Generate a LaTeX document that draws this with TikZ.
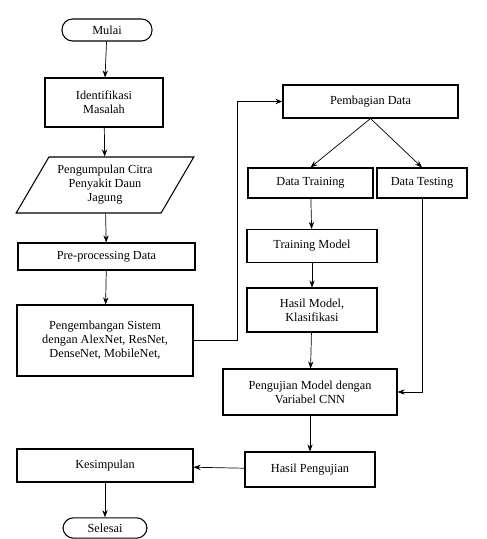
\documentclass[tikz,border=0pt]{standalone}
\usepackage{fontspec}
\setmainfont{Liberation Serif}
\usetikzlibrary{shapes.geometric,arrows.meta}
\begin{document}
\begin{tikzpicture}[font=\scriptsize,
    kotak/.style={draw,semithick,align=center,inner sep=1pt},
    ujung/.style={draw,semithick,rounded corners=6pt,align=center},
    panah/.style={-{Stealth[length=4pt]}}]
            \useasboundingbox (0,0) rectangle (9.74,-10.78);
            % alur kiri
            \node[ujung,minimum width=1.8cm,minimum height=0.44cm] (mulai) at (2.14,-0.60) {Mulai};
            \node[kotak,minimum width=2.36cm,minimum height=0.98cm] (identifikasi) at (2.08,-2.05) {Identifikasi\\Masalah};
            \node[kotak,trapezium,trapezium left angle=56,trapezium right angle=124,trapezium stretches=true,minimum width=3.56cm,minimum height=1.12cm] (kumpul) at (2.10,-3.70) {Pengumpulan Citra\\Penyakit Daun\\Jagung};
            \node[kotak,minimum width=3.54cm,minimum height=0.54cm] (preproses) at (2.13,-5.13) {Pre-processing Data};
            \node[kotak,minimum width=3.52cm,minimum height=1.42cm] (sistem) at (2.10,-6.81) {Pengembangan Sistem\\dengan AlexNet, ResNet,\\DenseNet, MobileNet,};
            \node[kotak,minimum width=3.52cm,minimum height=0.66cm] (simpulan) at (2.10,-9.31) {Kesimpulan};
            \node[ujung,minimum width=1.68cm,minimum height=0.40cm] (selesai) at (2.10,-10.56) {Selesai};
            % alur kanan
            \node[kotak,minimum width=3.5cm,minimum height=0.66cm] (bagi) at (7.41,-2.03) {Pembagian Data};
            \node[kotak,minimum width=2.5cm,minimum height=0.6cm] (training) at (6.21,-3.66) {Data Training};
            \node[kotak,minimum width=1.8cm,minimum height=0.6cm] (testing) at (8.44,-3.66) {Data Testing};
            \node[kotak,minimum width=2.6cm,minimum height=0.66cm] (latih) at (6.24,-4.92) {Training Model};
            \node[kotak,minimum width=2.6cm,minimum height=0.88cm] (hasilmodel) at (6.24,-6.20) {Hasil Model,\\Klasifikasi};
            \node[kotak,minimum width=3.48cm,minimum height=0.92cm] (uji) at (6.20,-7.84) {Pengujian Model dengan\\Variabel CNN};
            \node[kotak,minimum width=2.6cm,minimum height=0.7cm] (hasiluji) at (6.20,-9.39) {Hasil Pengujian};
            \coordinate (belok) at (4.74,-6.81);
            % panah
            \draw[panah] (mulai) -- (identifikasi);
            \draw[panah] (identifikasi) -- (kumpul);
            \draw[panah] (kumpul) -- (preproses);
            \draw[panah] (preproses) -- (sistem);
            \draw[panah] (sistem) -- (belok) |- (bagi);
            \draw[panah] (bagi.south) -- (training.north);
            \draw[panah] (bagi.south) -- (testing.north);
            \draw[panah] (training) -- (latih);
            \draw[panah] (latih) -- (hasilmodel);
            \draw[panah] (hasilmodel) -- (uji);
            \draw[panah] (testing.south) |- (uji.east);
            \draw[panah] (uji) -- (hasiluji);
            \draw[panah] (hasiluji) -- (simpulan);
            \draw[panah] (simpulan) -- (selesai);
        \end{tikzpicture}
\end{document}
